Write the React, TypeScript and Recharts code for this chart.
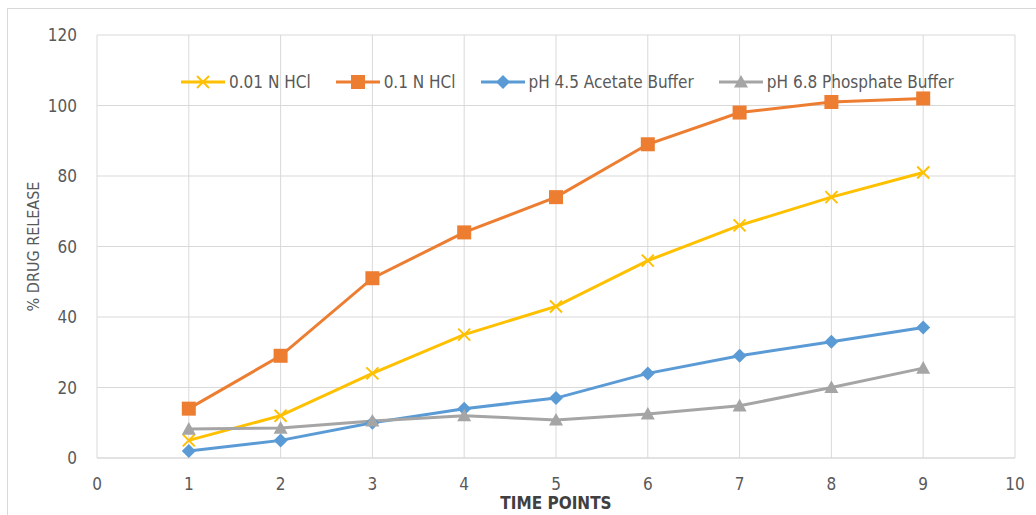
import React from "react";
import { LineChart, Line, XAxis, YAxis, CartesianGrid, Legend } from "recharts";

const timePoints = [1, 2, 3, 4, 5, 6, 7, 8, 9];
const hcl001 = [5, 12, 24, 35, 43, 56, 66, 74, 81];
const hcl01 = [14, 29, 51, 64, 74, 89, 98, 101, 102];
const acetate45 = [2, 5, 10, 14, 17, 24, 29, 33, 37];
const phosphate68 = [8.2, 8.5, 10.5, 12, 10.8, 12.5, 14.8, 20, 25.5];
const xTicks = [0, 1, 2, 3, 4, 5, 6, 7, 8, 9, 10];
const yTicks = [0, 20, 40, 60, 80, 100, 120];

const data = timePoints.map((t, i) => ({
  t,
  a: hcl001[i],
  b: hcl01[i],
  c: acetate45[i],
  d: phosphate68[i],
}));

const FONT = "'Liberation Sans Narrow', 'DejaVu Sans Condensed', Roboto, sans-serif";

type Shape = "x" | "square" | "diamond" | "triangle";

const Marker = ({ cx, cy, shape, color }: { cx: number; cy: number; shape: Shape; color: string }) => {
  if (cx == null || cy == null) return null;
  if (shape === "x") {
    const s = 6;
    return (
      <g stroke={color} strokeWidth={2}>
        <line x1={cx - s} y1={cy - s} x2={cx + s} y2={cy + s} />
        <line x1={cx - s} y1={cy + s} x2={cx + s} y2={cy - s} />
      </g>
    );
  }
  if (shape === "square") {
    const s = 7;
    return <rect x={cx - s} y={cy - s} width={2 * s} height={2 * s} fill={color} />;
  }
  if (shape === "diamond") {
    const s = 7;
    return <polygon points={`${cx},${cy - s} ${cx + s},${cy} ${cx},${cy + s} ${cx - s},${cy}`} fill={color} />;
  }
  const s = 7;
  return <polygon points={`${cx},${cy - s} ${cx + s},${cy + s * 0.8} ${cx - s},${cy + s * 0.8}`} fill={color} />;
};

const series: { key: string; name: string; color: string; shape: Shape }[] = [
  { key: "a", name: "0.01 N HCl", color: "#FFC000", shape: "x" },
  { key: "b", name: "0.1 N HCl", color: "#ED7D31", shape: "square" },
  { key: "c", name: "pH 4.5 Acetate Buffer", color: "#5B9BD5", shape: "diamond" },
  { key: "d", name: "pH 6.8 Phosphate Buffer", color: "#A5A5A5", shape: "triangle" },
];

const LegendContent = () => (
  <div style={{ display: "flex", alignItems: "center", fontFamily: FONT, fontSize: 17, color: "#595959" }}>
    {series.map((s) => (
      <div key={s.key} style={{ display: "flex", alignItems: "center", marginRight: 25 }}>
        <svg width={44} height={16} style={{ marginRight: 4 }}>
          <line x1={0} y1={8} x2={44} y2={8} stroke={s.color} strokeWidth={3} />
          <Marker cx={22} cy={8} shape={s.shape} color={s.color} />
        </svg>
        <span>{s.name}</span>
      </div>
    ))}
  </div>
);

export default function App() {
  return (
    <div style={{ position: "absolute", left: 0, top: 0, width: 1036, height: 515, background: "#fff", overflow: "hidden" }}>
      <div
        style={{
          position: "absolute",
          left: 7,
          top: 8,
          width: 1040,
          height: 520,
          border: "1.5px solid #d9d9d9",
          boxSizing: "border-box",
        }}
      />
      <LineChart
        width={1036}
        height={515}
        data={data}
        margin={{ top: 35, right: 21, left: 17, bottom: 27 }}
        style={{ position: "absolute", left: 0, top: 0 }}
      >
        <CartesianGrid stroke="#d9d9d9" strokeWidth={1} />
        <XAxis
          dataKey="t"
          type="number"
          domain={[0, 10]}
          ticks={xTicks}
          interval={0}
          axisLine={{ stroke: "#d9d9d9" }}
          tickLine={false}
          tick={{ fill: "#595959", fontSize: 17, fontFamily: FONT }}
          tickMargin={14}
          height={30}
          label={{
            value: "TIME POINTS",
            position: "insideBottom",
            offset: -21,
            style: { fill: "#404040", fontSize: 17, fontWeight: "bold", fontFamily: FONT },
          }}
        />
        <YAxis
          type="number"
          domain={[0, 120]}
          ticks={yTicks}
          interval={0}
          axisLine={false}
          tickLine={false}
          tick={{ fill: "#595959", fontSize: 17, fontFamily: FONT }}
          tickMargin={14}
          width={80}
          label={{
            value: "% DRUG RELEASE",
            angle: -90,
            position: "insideLeft",
            offset: 16,
            style: { textAnchor: "middle", fill: "#595959", fontSize: 16, fontFamily: FONT },
          }}
        />
        <Legend
          verticalAlign="middle"
          align="center"
          layout="horizontal"
          content={<LegendContent />}
          wrapperStyle={{ top: 72, left: 181, width: 840 }}
        />
        {series.map((s) => (
          <Line
            key={s.key}
            dataKey={s.key}
            name={s.name}
            stroke={s.color}
            strokeWidth={3}
            isAnimationActive={false}
            dot={(p: any) => <Marker key={`${s.key}-${p.index}`} cx={p.cx} cy={p.cy} shape={s.shape} color={s.color} />}
            activeDot={false}
          />
        ))}
      </LineChart>
    </div>
  );
}
